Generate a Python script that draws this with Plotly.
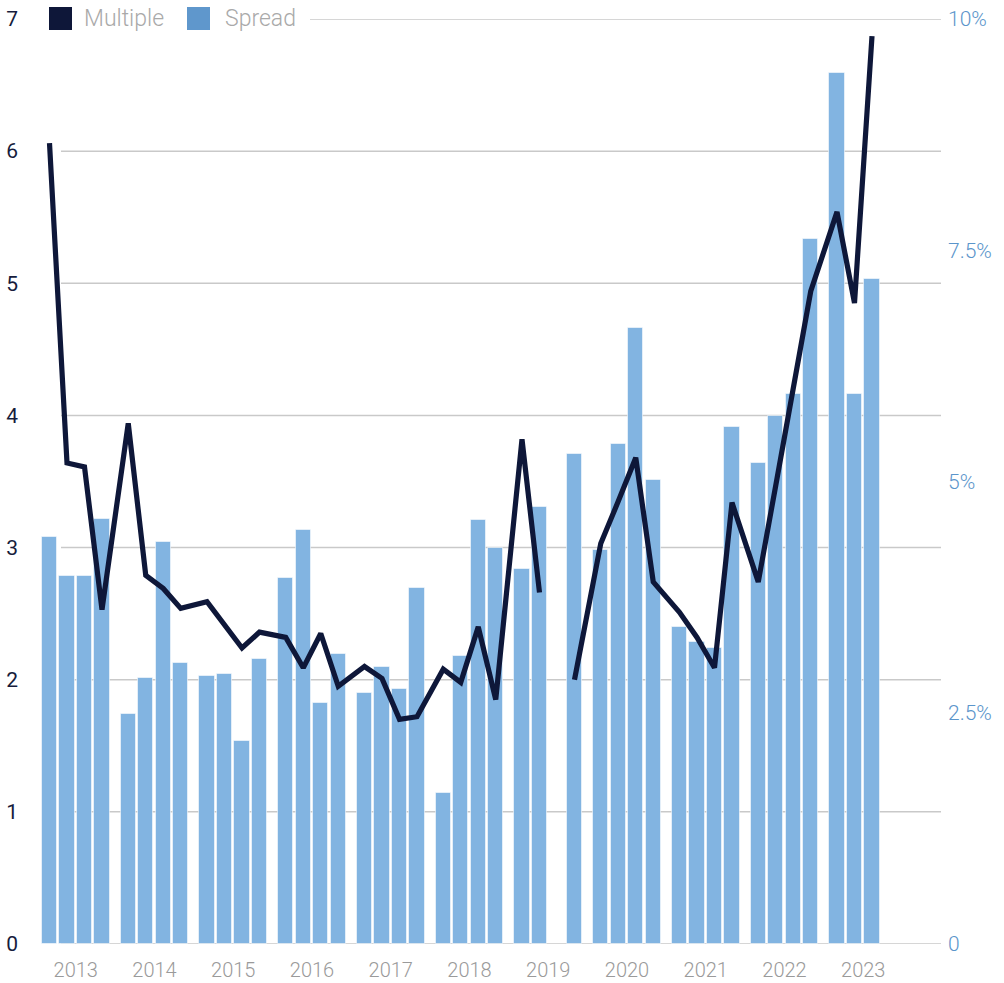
import plotly.graph_objects as go

# ---- data -------------------------------------------------------------
years = [2013, 2014, 2015, 2016, 2017, 2018, 2019, 2020, 2021, 2022, 2023]
quarters = ["Q1", "Q2", "Q3", "Q4"]

# Spread (% , right axis), quarterly; None = no data
spread = [
    4.40, 3.98, 3.98, 4.60,   # 2013
    2.49, 2.88, 4.35, 3.04,   # 2014
    2.90, 2.92, 2.19, 3.08,   # 2015
    3.96, 4.48, 2.61, 3.13,   # 2016
    2.71, 2.99, 2.76, 3.85,   # 2017
    1.63, 3.11, 4.58, 4.28,   # 2018
    4.05, 4.72, None, 5.30,   # 2019
    4.26, 5.41, 6.66, 5.02,   # 2020
    3.43, 3.27, 3.20, 5.59,   # 2021
    5.20, 5.71, 5.95, 7.62,   # 2022
    9.42, 5.95, 7.19,         # 2023
]

# Multiple (left axis), quarterly; None = no data
multiple = [
    6.06, 3.64, 3.61, 2.53,   # 2013
    3.94, 2.79, 2.69, 2.54,   # 2014
    2.59, 2.42, 2.24, 2.36,   # 2015
    2.32, 2.09, 2.35, 1.95,   # 2016
    2.10, 2.01, 1.70, 1.72,   # 2017
    2.08, 1.98, 2.40, 1.85,   # 2018
    3.82, 2.66, None, 2.00,   # 2019
    3.03, 3.35, 3.68, 2.74,   # 2020
    2.51, 2.32, 2.09, 3.34,   # 2021
    2.74, 3.47, 4.19, 4.94,   # 2022
    5.54, 4.85, 6.87,         # 2023
]

left_ticks = [0, 1, 2, 3, 4, 5, 6, 7]
right_tickvals = [0, 0.025, 0.05, 0.075, 0.10]
right_ticktext = ["0", "2.5%", "5%", "7.5%", "10%"]

# ---- positions: 4 quarter slots per year plus a gap between years ------
GROUP = 4.5
xpos = []
for yi, yr in enumerate(years):
    for q in range(4):
        if len(xpos) < len(spread):
            xpos.append(yi * GROUP + q)
year_centers = [yi * GROUP + 1.5 for yi in range(len(years))]
spread_frac = [None if v is None else v / 100 for v in spread]

W, H = 1004, 983
ML, MR, MT, MB = 35, 63, 19, 39
PW = W - ML - MR
PH = H - MT - MB

def px_x(p):                 # page pixel -> paper fraction
    return (p - ML) / PW

def px_y(p):
    return (H - MB - p) / PH

FONT = "Roboto"
BAR = "#82b4e1"
NAVY = "#0e1739"

fig = go.Figure()
fig.add_trace(go.Bar(
    x=xpos, y=spread_frac, yaxis="y", name="Spread",
    marker=dict(color=BAR, line=dict(color="rgba(255,255,255,0.55)", width=1)),
    width=0.86, showlegend=False, hoverinfo="skip",
))
fig.add_trace(go.Scatter(
    x=xpos, y=multiple, yaxis="y2", name="Multiple", mode="lines",
    line=dict(color=NAVY, width=5.2), connectgaps=False,
    showlegend=False, hoverinfo="skip",
))

# gridlines (left axis values)
shapes = []
for v in left_ticks:
    shapes.append(dict(
        type="line", xref="paper", yref="y2",
        x0=px_x(310 if v == 7 else 61), x1=1, y0=v, y1=v,
        line=dict(color="#c9c9c9", width=1.5), layer="below",
    ))
# legend swatches
shapes.append(dict(type="rect", xref="paper", yref="paper",
                   x0=px_x(49), x1=px_x(72), y0=px_y(30), y1=px_y(7),
                   fillcolor=NAVY, line=dict(width=0)))
shapes.append(dict(type="rect", xref="paper", yref="paper",
                   x0=px_x(187), x1=px_x(210), y0=px_y(30), y1=px_y(7),
                   fillcolor="#5f97cc", line=dict(width=0)))

annotations = [
    dict(text="Multiple", xref="paper", yref="paper", x=px_x(82), y=px_y(18.5),
         xanchor="left", yanchor="middle", showarrow=False,
         font=dict(family=FONT, size=23, color="#a9a9a9", weight=300)),
    dict(text="Spread", xref="paper", yref="paper", x=px_x(223), y=px_y(18.5),
         xanchor="left", yanchor="middle", showarrow=False,
         font=dict(family=FONT, size=23, color="#a9a9a9", weight=300)),
]

fig.update_layout(
    width=W, height=H,
    margin=dict(l=ML, r=MR, t=MT, b=MB, autoexpand=False),
    paper_bgcolor="white", plot_bgcolor="white",
    font=dict(family=FONT),
    bargap=0,
    shapes=shapes,
    annotations=annotations,
    showlegend=False,
    xaxis=dict(
        range=[(ML - 49.5) / 17.5, (W - MR - 49.5) / 17.5],
        tickmode="array", tickvals=year_centers, ticktext=[str(y) for y in years],
        showgrid=False, zeroline=False, showline=False, ticks="",
        tickfont=dict(family=FONT, size=20, color="#9a9a9a", weight=300),
        ticklabelstandoff=12, automargin=False, ticklabeloverflow="allow",
    ),
    yaxis=dict(
        range=[0, 0.10], side="right",
        tickmode="array", tickvals=right_tickvals, ticktext=right_ticktext,
        showgrid=False, zeroline=False, showline=False, ticks="",
        tickfont=dict(family=FONT, size=21, color="#5b95cb", weight=300),
        ticklabelstandoff=6, automargin=False, ticklabeloverflow="allow",
    ),
    yaxis2=dict(
        range=[0, 7], overlaying="y", side="left", tickmode="array", tickvals=left_ticks,
        showgrid=False, zeroline=False, showline=False, ticks="",
        tickfont=dict(family=FONT, size=21, color="#161c3c"),
        ticklabelstandoff=16, automargin=False, ticklabeloverflow="allow",
    ),
)

fig.write_html("out.html", config={"displayModeBar": False},
               post_script="document.body.style.margin='0px';")
